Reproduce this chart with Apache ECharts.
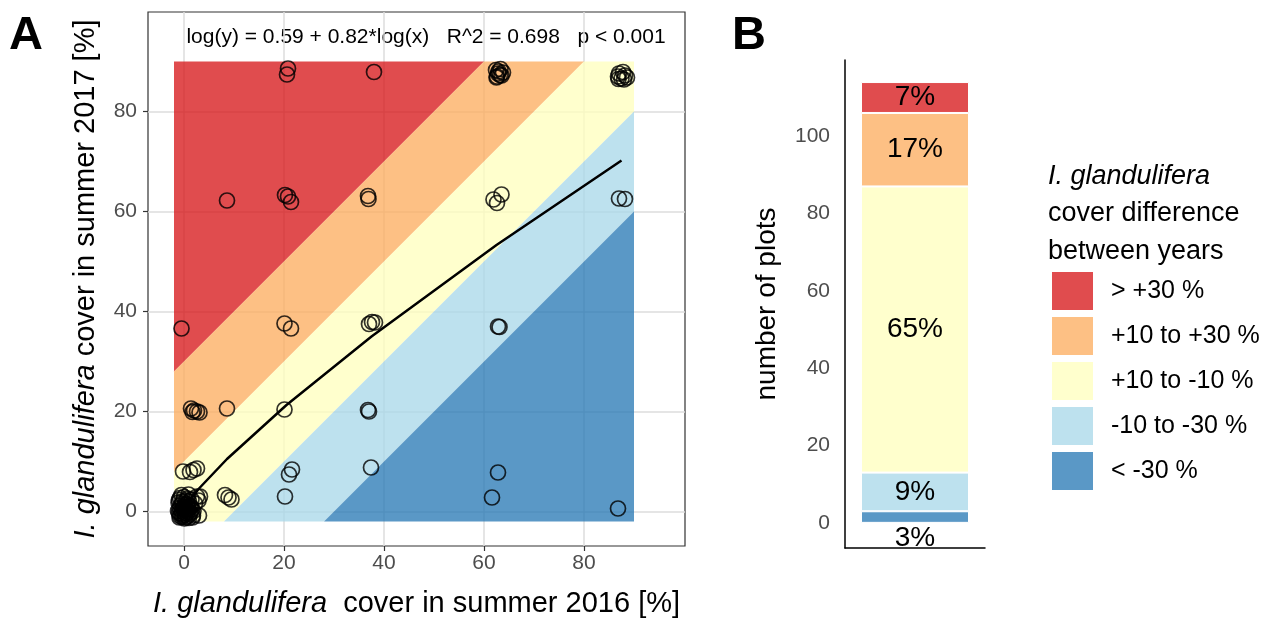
<!DOCTYPE html>
<html>
<head>
<meta charset="utf-8">
<script src="https://cdn.jsdelivr.net/npm/echarts@6/dist/echarts.min.js"></script>
<style>
  html, body { margin: 0; padding: 0; background: #fff; }
  #main { width: 1279px; height: 623px; }
</style>
</head>
<body>
<div id="main"></div>
<script>
// cover difference classes (top to bottom as in the legend)
var bandNames = ['> +30 %', '+10 to +30 %', '+10 to -10 %', '-10 to -30 %', '< -30 %'];
var bandColors = ['rgba(215,25,28,0.78)', 'rgba(253,174,97,0.78)', 'rgba(255,255,191,0.78)',
                  'rgba(171,217,233,0.78)', 'rgba(44,123,182,0.78)'];
var bandLow = [30, 10, -10, -30, -200];
var bandHigh = [200, 30, 10, -10, -30];
var fillRange = [-2, 90];

// panel A points [cover 2016, cover 2017]
var ptsRed = [[20.8, 88.6], [20.6, 87.4], [38.0, 87.9], [8.6, 62.2], [20.2, 63.3], [20.8, 63.0],
              [21.4, 61.9], [-0.5, 36.6]];
var ptsOrange = [[62.4, 88.3], [62.8, 87.6], [63.3, 88.5], [62.6, 87.0], [63.5, 87.2], [62.9, 88.0],
                 [63.8, 87.8], [62.5, 86.8], [63.2, 87.3], [36.8, 63.1], [36.9, 62.5], [20.1, 37.6],
                 [21.4, 36.6], [1.4, 20.6], [2.0, 20.2], [2.6, 20.0], [3.1, 19.8], [1.7, 19.9], [8.6, 20.6]];
var ptsYellow = [[86.8, 87.0], [87.5, 86.6], [88.2, 87.2], [87.0, 87.6], [88.6, 86.8], [87.8, 87.9],
                 [86.9, 86.5], [88.0, 86.4], [61.9, 62.4], [62.6, 61.7], [63.5, 63.4], [37.0, 37.5],
                 [37.6, 37.9], [38.2, 37.8], [20.1, 20.4], [-0.2, 8.0], [1.2, 7.9], [1.9, 8.3], [2.6, 8.6],
                 [8.2, 3.3], [8.9, 2.8], [9.5, 2.4], [3.2, 3.0], [3.0, -0.8]];
var ptsOrigin = [[-0.8, -0.9], [-0.4, -1.1], [0.2, -0.7], [0.7, -1.0], [1.1, -0.6], [-1.0, -0.3], [-0.5, 0.1],
                 [0.0, -0.2], [0.5, 0.2], [1.3, -0.2], [-0.9, 0.6], [-0.2, 0.5], [0.3, 0.8], [0.9, 0.6],
                 [1.6, 0.4], [-0.7, 1.2], [0.1, 1.3], [0.6, 1.5], [1.2, 1.1], [-1.1, 1.8], [-0.3, 2.0],
                 [0.4, 2.2], [1.0, 2.0], [-0.8, 2.7], [0.0, 2.9], [0.7, 2.6], [1.5, 2.4], [-0.6, -0.5],
                 [0.3, -1.2], [1.8, -0.8], [-1.2, 0.1], [0.8, 0.0], [-0.1, 0.9], [0.5, -0.4], [1.4, 0.9],
                 [-0.4, 1.6], [0.2, 0.3], [-0.9, -1.2], [1.0, -1.3], [0.6, 1.0], [-0.2, -0.8], [1.9, 0.1],
                 [2.2, 1.6], [2.6, 3.0], [2.9, 2.2], [-0.5, 3.3], [0.9, 3.4], [1.7, -1.2], [-1.0, 2.3],
                 [0.1, -1.4]];
var ptsLightBlue = [[20.2, 3.0], [21.0, 7.4], [21.6, 8.4], [37.4, 8.8], [36.8, 20.3], [37.0, 20.0],
                    [62.8, 37.0], [63.1, 36.9], [87.0, 62.6], [88.2, 62.5]];
var ptsDarkBlue = [[61.6, 2.8], [62.8, 7.8], [86.8, 0.6]];

// fitted line
var lineX = [0, 3, 8.6, 20.5, 37.5, 62.5, 87.5];
var lineY = [0.8, 4.6, 10.5, 21.3, 35.0, 53.3, 70.2];

// panel B
var plotCounts = [8, 19, 74, 10, 3];
var pctLabels = ['7%', '17%', '65%', '9%', '3%'];

var ticksA = [0, 20, 40, 60, 80];
var ticksB = [0, 20, 40, 60, 80, 100];

var font = 'Liberation Sans, Arial, Helvetica, sans-serif';

function clipHalf(poly, keep) {
  var out = [];
  for (var i = 0; i < poly.length; i++) {
    var a = poly[i], b = poly[(i + 1) % poly.length];
    var fa = keep(a), fb = keep(b);
    if (fa >= 0) out.push(a);
    if ((fa >= 0) !== (fb >= 0)) {
      var t = fa / (fa - fb);
      out.push([a[0] + t * (b[0] - a[0]), a[1] + t * (b[1] - a[1])]);
    }
  }
  return out;
}

function bandPolygon(i) {
  var lo = fillRange[0], hi = fillRange[1];
  var sq = [[lo, lo], [hi, lo], [hi, hi], [lo, hi]];
  sq = clipHalf(sq, function (p) { return (p[1] - p[0]) - bandLow[i]; });
  sq = clipHalf(sq, function (p) { return bandHigh[i] - (p[1] - p[0]); });
  return sq;
}

var allPts = ptsRed.concat(ptsOrange, ptsYellow, ptsOrigin, ptsLightBlue, ptsDarkBlue);
var lineData = lineX.map(function (x, i) { return [x, lineY[i]]; });

var barSeries = [];
for (var k = bandNames.length - 1; k >= 0; k--) {
  barSeries.push({
    name: bandNames[k],
    type: 'bar',
    xAxisIndex: 1,
    yAxisIndex: 1,
    stack: 'plots',
    barWidth: 108,
    data: [plotCounts[k]],
    itemStyle: { color: bandColors[k], borderColor: '#fff', borderWidth: 1 },
    label: {
      show: true,
      position: k === 4 ? 'bottom' : 'inside',
      distance: 1,
      formatter: pctLabels[k],
      fontSize: 28,
      fontFamily: font,
      color: '#000'
    }
  });
}

var myChart = echarts.init(document.getElementById('main'));
var option = {
  animation: false,
  textStyle: { fontFamily: font },
  grid: [
    { left: 148, top: 12, width: 537, height: 534, show: true, borderColor: '#333', borderWidth: 1.2 },
    { left: 845, top: 60, width: 140, height: 488 }
  ],
  xAxis: [
    {
      gridIndex: 0, type: 'value', min: -7.2, max: 100.2,
      axisLine: { show: false, onZero: false },
      axisTick: { length: 5, customValues: ticksA, lineStyle: { color: '#333', width: 1.2 } },
      axisLabel: { customValues: ticksA, fontSize: 21, color: '#4D4D4D', margin: 7 },
      splitLine: { show: true, lineStyle: { color: '#DDDDDD', width: 1.5 } },
      name: '{i|I. glandulifera}  cover in summer 2016 [%]',
      nameLocation: 'middle', nameGap: 43,
      nameTextStyle: { fontSize: 29, color: '#000',
        rich: { i: { fontStyle: 'italic', fontSize: 29, color: '#000', fontFamily: font } } }
    },
    {
      gridIndex: 1, type: 'category', data: [''],
      axisLine: { onZero: false, lineStyle: { color: '#000', width: 1.5 } },
      axisTick: { show: false }, axisLabel: { show: false }
    }
  ],
  yAxis: [
    {
      gridIndex: 0, type: 'value', min: -6.9, max: 99.9,
      axisLine: { show: false, onZero: false },
      axisTick: { length: 5, customValues: ticksA, lineStyle: { color: '#333', width: 1.2 } },
      axisLabel: { customValues: ticksA, fontSize: 21, color: '#4D4D4D', margin: 11 },
      splitLine: { show: true, lineStyle: { color: '#DDDDDD', width: 1.5 } },
      name: '{i|I. glandulifera} cover in summer 2017 [%]',
      nameLocation: 'middle', nameGap: 48, nameRotate: 90,
      nameTextStyle: { fontSize: 29, color: '#000',
        rich: { i: { fontStyle: 'italic', fontSize: 29, color: '#000', fontFamily: font } } }
    },
    {
      gridIndex: 1, type: 'value', min: -6.5, max: 119.7,
      axisLine: { show: true, onZero: false, lineStyle: { color: '#000', width: 1.5 } },
      axisTick: { length: 7, customValues: ticksB, lineStyle: { color: '#333', width: 1.2 } },
      axisLabel: { customValues: ticksB, fontSize: 21, color: '#4D4D4D', margin: 15 },
      splitLine: { show: false },
      name: 'number of plots',
      nameLocation: 'middle', nameGap: 64, nameRotate: 90,
      nameTextStyle: { fontSize: 28, color: '#000' }
    }
  ],
  legend: {
    data: bandNames,
    orient: 'vertical',
    left: 1050, top: 270,
    padding: 0,
    itemWidth: 43, itemHeight: 40, itemGap: 3,
    icon: 'rect',
    selectedMode: false,
    textStyle: { fontSize: 25, color: '#000', padding: [0, 0, 0, 12] }
  },
  graphic: [
    { type: 'text', left: 9, top: 13, style: { text: 'A', font: 'bold 47px ' + font, fill: '#000' } },
    { type: 'text', left: 732, top: 13, style: { text: 'B', font: 'bold 47px ' + font, fill: '#000' } },
    {
      type: 'text', left: 1048, top: 157,
      style: {
        text: '{i|I. glandulifera}\ncover difference\nbetween years',
        fontSize: 27, lineHeight: 38, fill: '#000', fontFamily: font,
        rich: { i: { fontStyle: 'italic', fontSize: 27, lineHeight: 38, fontFamily: font, color: '#000' } }
      }
    },
    {
      type: 'text', x: 426, y: 37,
      style: {
        text: 'log(y) = 0.59 + 0.82*log(x)   R^2 = 0.698   p < 0.001',
        fontSize: 21, fontFamily: font, fill: '#000', align: 'center', verticalAlign: 'middle'
      }
    }
  ],
  series: [
    {
      name: 'bands',
      type: 'custom',
      xAxisIndex: 0, yAxisIndex: 0,
      z: 1,
      data: bandNames.map(function (n, i) { return [i, i]; }),
      renderItem: function (params, api) {
        var poly = bandPolygon(params.dataIndex).map(function (p) { return api.coord(p); });
        return { type: 'polygon', shape: { points: poly }, style: { fill: bandColors[params.dataIndex] } };
      }
    },
    {
      name: 'plots',
      type: 'scatter',
      xAxisIndex: 0, yAxisIndex: 0,
      z: 3,
      symbol: 'circle',
      symbolSize: 15,
      data: allPts,
      itemStyle: { color: 'rgba(0,0,0,0)', borderColor: '#000', borderWidth: 1.7 }
    },
    {
      name: 'fit',
      type: 'line',
      xAxisIndex: 0, yAxisIndex: 0,
      z: 4,
      symbol: 'none',
      data: lineData,
      lineStyle: { color: '#000', width: 2.5 }
    }
  ].concat(barSeries)
};
myChart.setOption(option);
</script>
</body>
</html>
